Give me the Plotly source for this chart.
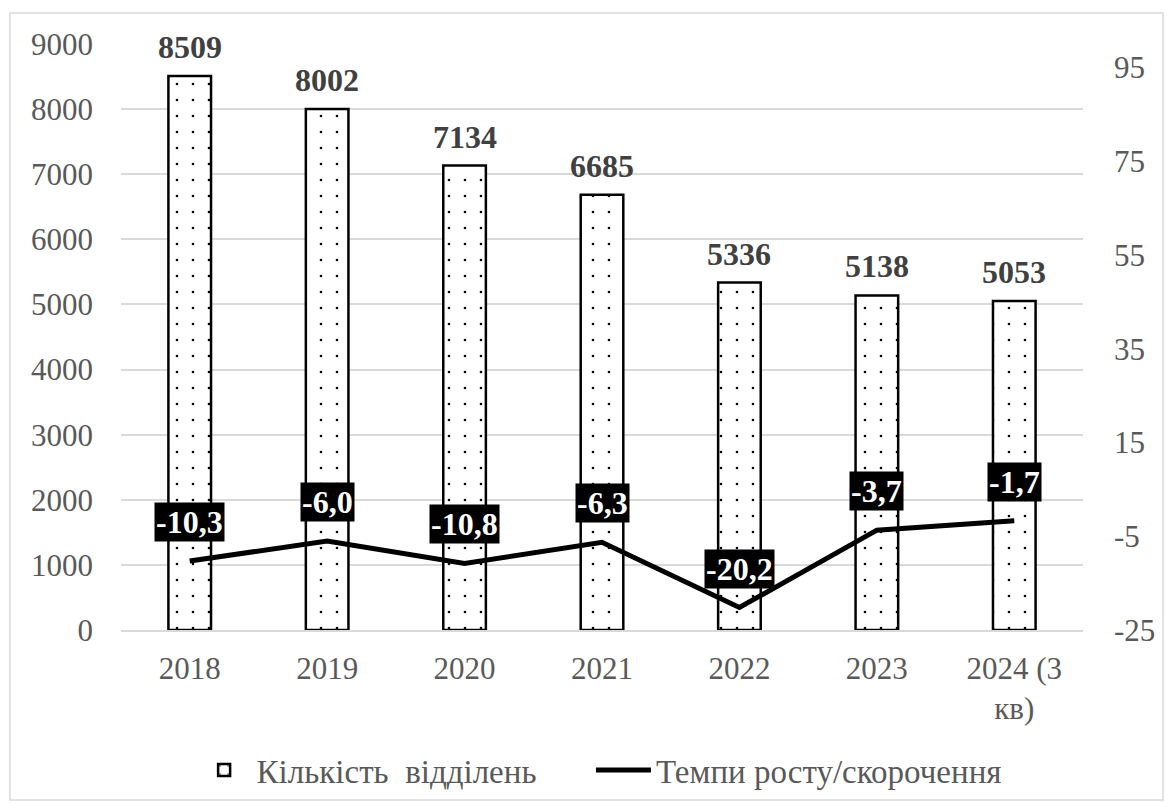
import plotly.graph_objects as go

categories = ["2018", "2019", "2020", "2021", "2022", "2023", "2024 (3<br>кв)"]
branches = [8509, 8002, 7134, 6685, 5336, 5138, 5053]
growth = [-10.3, -6.0, -10.8, -6.3, -20.2, -3.7, -1.7]
growth_labels = ["-10,3", "-6,0", "-10,8", "-6,3", "-20,2", "-3,7", "-1,7"]
left_ticks = list(range(0, 9001, 1000))
right_ticks = [-25, -5, 15, 35, 55, 75, 95]
right_tick_text = ["-25", "-5", "15", "35", "55", "75", "95"]
series_names = ["Кількість  відділень", "Темпи росту/скорочення"]

FONT = "Liberation Serif, Times New Roman, serif"
GRAY = "#595959"

fig = go.Figure()
fig.add_trace(go.Bar(
    x=categories, y=branches, name=series_names[0] + "\u00a0" * 6,
    width=0.31,
    marker=dict(color="white", line=dict(color="black", width=2.5),
                pattern=dict(shape=".", fgcolor="black", bgcolor="white",
                             size=16, solidity=0.022, fillmode="replace")),
    yaxis="y",
))
fig.add_trace(go.Scatter(
    x=categories, y=growth, name=series_names[1],
    mode="lines", line=dict(color="black", width=5),
    yaxis="y2",
))

annotations = []
# category axis: annotations positioned by category index
for i, v in enumerate(branches):
    annotations.append(dict(x=i, y=v, xref="x", yref="y", text=f"<b>{v}</b>",
                            showarrow=False, yanchor="bottom", yshift=9,
                            font=dict(family=FONT, size=32, color="#404040")))
for i, (v, t) in enumerate(zip(growth, growth_labels)):
    annotations.append(dict(x=i, y=v, xref="x", yref="y2", text=f"<b>{t}</b>",
                            showarrow=False, yanchor="middle", yshift=39,
                            bgcolor="black", borderpad=1,
                            font=dict(family=FONT, size=32, color="white")))

fig.update_layout(
    width=1167, height=803,
    margin=dict(l=121, r=84, t=44, b=173, autoexpand=False),
    paper_bgcolor="white", plot_bgcolor="white",
    font=dict(family=FONT, size=31, color=GRAY),
    showlegend=True,
    legend=dict(orientation="h", x=0.497, xanchor="center", y=-0.239, yanchor="middle",
                font=dict(family=FONT, size=33, color=GRAY), itemwidth=55,
                traceorder="normal"),
    xaxis=dict(type="category", range=[-0.5, 6.5], showgrid=False, showline=True,
               linecolor="#d9d9d9", linewidth=1.5, ticks="", automargin=False,
               tickfont=dict(size=31, color=GRAY), ticklabelstandoff=10),
    yaxis=dict(range=[0, 9000], tickvals=left_ticks, showgrid=True, gridcolor="#d9d9d9",
               gridwidth=1.5, zeroline=False, showline=False, ticks="", automargin=False,
               tickfont=dict(size=31, color=GRAY), ticklabelstandoff=27),
    yaxis2=dict(range=[-25, 100], tickvals=right_ticks, ticktext=right_tick_text,
                overlaying="y", side="right", automargin=False,
                showgrid=False, zeroline=False, showline=False, ticks="",
                tickfont=dict(size=31, color=GRAY), ticklabelstandoff=30),
    annotations=annotations,
    shapes=[dict(type="rect", xref="paper", yref="paper",
                 x0=(10 - 121) / 962, x1=(1163 - 121) / 962,
                 y0=(630 - 800) / 586, y1=(630 - 13) / 586,
                 line=dict(color="#d9d9d9", width=1.5), fillcolor="rgba(0,0,0,0)",
                 layer="below")],
)

fig.write_html("out.html", config={"displayModeBar": False},
               post_script="document.body.style.margin='0';document.body.style.overflow='hidden';")
